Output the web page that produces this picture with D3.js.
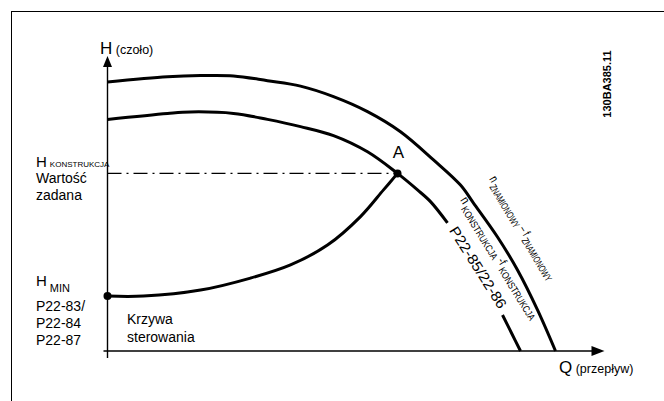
<!DOCTYPE html>
<html>
<head>
<meta charset="utf-8">
<script src="https://cdn.jsdelivr.net/npm/d3@7"></script>
<style>
body { margin: 0; background: #fff; }
text { font-family: "Liberation Sans", Arial, sans-serif; fill: #000; }
</style>
</head>
<body>
<svg id="chart" width="664" height="401"></svg>
<script>
// flow Q and head H, relative units (0..100)
var nominalQ = [0, 12, 18.6, 25.2, 32, 38.6, 45.2, 52, 58.6, 65.2, 70.6, 73.2, 78, 82, 86, 89.6];
var nominalH = [89.7, 91.4, 91.8, 91.7, 90.1, 88.3, 84.8, 79.8, 73.1, 63.7, 55.3, 49.3, 38, 27, 13.7, 0];
var designQ = [0, 12, 16.6, 25.2, 32, 38.6, 45.2, 52, 58, 62, 64.6, 68];
var designH = [77.2, 79.2, 79.7, 79.2, 77.2, 74.8, 71.8, 66.4, 59.2, 53.7, 49.8, 42.7];
var designTailQ = [79, 80.8, 82.6];
var designTailH = [12, 6, 0];
var controlQ = [0, 7.2, 18.6, 28.6, 36.6, 44, 50.6, 55.2, 58];
var controlH = [18.3, 18.3, 20.3, 24.3, 28.7, 35.3, 44.8, 53.7, 59.2];
var pointA = [58, 59.2];
var pointHmin = [0, 18.3];
var qAxisExtent = [-0.8, 97];
var hAxisExtent = [-2.3, 95];

var svg = d3.select('#chart');

var x = d3.scaleLinear().domain([0, 100]).range([107.5, 607.5]);
var y = d3.scaleLinear().domain([0, 100]).range([351, 51]);

function pairs(qs, hs) {
    return qs.map(function(q, i) { return [q, hs[i]]; });
}

var line = d3.line()
    .x(function(d) { return x(d[0]); })
    .y(function(d) { return y(d[1]); })
    .curve(d3.curveCatmullRom.alpha(0.5));

// frame (only left and top edges are visible)
svg.append('rect')
    .attr('x', 11.5).attr('y', 11.5)
    .attr('width', 700).attr('height', 500)
    .style('fill', 'none').style('stroke', '#000').style('stroke-width', 1);

// axes
svg.append('line')
    .attr('x1', x(0)).attr('x2', x(0))
    .attr('y1', y(hAxisExtent[0])).attr('y2', y(hAxisExtent[1]))
    .style('stroke', '#000').style('stroke-width', 1.4);
svg.append('line')
    .attr('x1', x(qAxisExtent[0])).attr('x2', x(qAxisExtent[1]))
    .attr('y1', y(0)).attr('y2', y(0))
    .style('stroke', '#000').style('stroke-width', 1.4);

// arrow heads
var ty = y(hAxisExtent[1]);
svg.append('path')
    .attr('d', 'M' + x(0) + ',' + (ty - 10) + 'L' + (x(0) - 4.5) + ',' + (ty + 1) + 'L' + (x(0) + 4.5) + ',' + (ty + 1) + 'Z')
    .style('fill', '#000');
var tx = x(qAxisExtent[1]);
svg.append('path')
    .attr('d', 'M' + (tx + 12) + ',' + y(0) + 'L' + (tx - 1) + ',' + (y(0) - 5) + 'L' + (tx - 1) + ',' + (y(0) + 5) + 'Z')
    .style('fill', '#000');

// set point line
svg.append('line')
    .attr('x1', x(0)).attr('x2', x(pointA[0]))
    .attr('y1', y(pointA[1])).attr('y2', y(pointA[1]))
    .style('stroke', '#000').style('stroke-width', 1.3)
    .style('stroke-dasharray', '14,5,2,5');

// pump curves
[pairs(nominalQ, nominalH), pairs(designQ, designH), pairs(designTailQ, designTailH), pairs(controlQ, controlH)]
    .forEach(function(pts) {
        svg.append('path')
            .attr('d', line(pts))
            .style('fill', 'none').style('stroke', '#000').style('stroke-width', 3);
    });

// points
[pointA, pointHmin].forEach(function(p) {
    svg.append('circle')
        .attr('cx', x(p[0])).attr('cy', y(p[1])).attr('r', 4)
        .style('fill', '#000');
});

// labels
function label(tx, ty, parts, opts) {
    opts = opts || {};
    var t = svg.append('text').attr('x', tx).attr('y', ty);
    if (opts.anchor) t.attr('text-anchor', opts.anchor);
    parts.forEach(function(p) {
        var s = t.append('tspan').text(p[0]).style('font-size', p[1] + 'px');
        if (p[2]) s.attr('dy', p[2]);
        if (p[3]) s.attr('dx', p[3]);
    });
    return t;
}

label(100, 54, [['H', 17], [' (czoło)', 12.5]]);
label(559, 373, [['Q', 17], [' (przepływ)', 12.5]]);
label(x(pointA[0]) + 1, y(pointA[1]) - 15, [['A', 17]], { anchor: 'middle' });

label(36, 167, [['H', 15], ['KONSTRUKCJA', 8, 0, 3]]);
label(36, 183, [['Wartość', 14]]);
label(36, 200, [['zadana', 14]]);
label(36, 286, [['H', 15], ['MIN', 11, 6, 3]]);
label(36, 311, [['P22-83/', 14]]);
label(36, 328, [['P22-84', 14]]);
label(36, 345, [['P22-87', 14]]);
label(127, 324, [['Krzywa', 14]]);
label(127, 342, [['sterowania', 14]]);

label(0, 0, [['130BA385.11', 11]], { anchor: 'middle' })
    .attr('transform', 'translate(611,84) rotate(-90)')
    .style('font-weight', 'bold');

// labels along the curves
label(0, 0, [['P22-85/22-86', 14.5]], { anchor: 'middle' })
    .attr('dominant-baseline', 'central')
    .attr('textLength', 94).attr('lengthAdjust', 'spacingAndGlyphs')
    .attr('transform', 'translate(478,267.5) rotate(57.7)');

label(0, 0, [['n', 13], [' KONSTRUKCJA', 10, 4], [' -f', 12, -4], [' KONSTRUKCJA', 10, 4]])
    .attr('textLength', 140).attr('lengthAdjust', 'spacingAndGlyphs')
    .attr('transform', 'translate(460,200) rotate(58.5)');

label(0, 0, [['n', 13], [' ZNAMIONOWY', 10, 4], [' – f', 12, -4], [' ZNAMIONOWY', 10, 4]])
    .attr('textLength', 118).attr('lengthAdjust', 'spacingAndGlyphs')
    .attr('transform', 'translate(489,179) rotate(59)');
</script>
</body>
</html>
